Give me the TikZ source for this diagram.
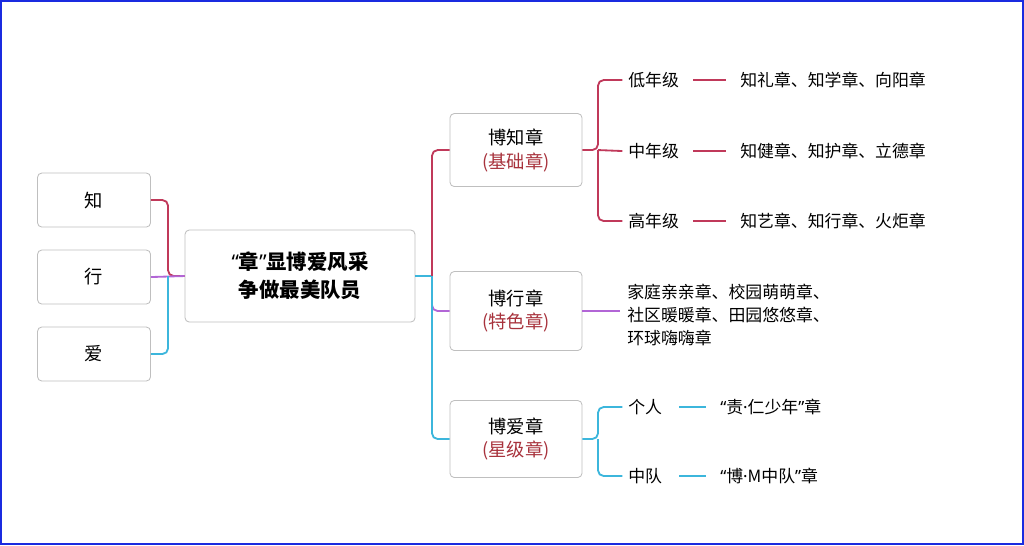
\documentclass[tikz,border=0pt]{standalone}
\usepackage{fontspec}
\setmainfont{Noto Sans CJK SC}
\newfontfamily\latin{Noto Sans}
\usetikzlibrary{positioning}
\definecolor{zhired}{HTML}{C0395A}
\definecolor{xingpur}{HTML}{B266D6}
\definecolor{aiblue}{HTML}{3CB6DC}
\definecolor{subred}{HTML}{A8323C}
\definecolor{framebl}{HTML}{1A2BE0}
\tikzset{
  box/.style={draw=black!25,rounded corners=3pt,fill=white,line width=0.6pt},
  lbl/.style={font=\fontsize{12}{14}\selectfont,inner sep=0pt},
  link/.style={line width=1.3pt}
}
\begin{document}
\begin{tikzpicture}[x=0.025cm,y=-0.025cm]
  \draw[framebl,line width=1.5pt] (1,1) rectangle (1023,544);
  \useasboundingbox (0,0) rectangle (1024,545);
  % left column
  \node[box,minimum width=113*0.025cm,minimum height=54*0.025cm,font=\fontsize{13}{14}\selectfont] (zhi) at (94,200) {知};
  \node[box,minimum width=113*0.025cm,minimum height=54*0.025cm,font=\fontsize{13}{14}\selectfont] (xing) at (94,277) {行};
  \node[box,minimum width=113*0.025cm,minimum height=54*0.025cm,font=\fontsize{13}{14}\selectfont] (ai) at (94,354) {爱};
  % centre
  \node[box,minimum width=230*0.025cm,minimum height=92*0.025cm,align=center,
        font=\bfseries\fontsize{14.5}{20}\selectfont] (main) at (300,276) {{\latin\bfseries “}章{\latin\bfseries ”}显博爱风采\\争做最美队员};
  % badges
  \node[box,minimum width=132*0.025cm,minimum height=73*0.025cm,align=center,
        font=\fontsize{13}{17}\selectfont] (bzhi) at (516,150) {博知章\\\textcolor{subred}{(基础章)}};
  \node[box,minimum width=132*0.025cm,minimum height=79*0.025cm,align=center,
        font=\fontsize{13}{17}\selectfont] (bxing) at (516,311) {博行章\\\textcolor{subred}{(特色章)}};
  \node[box,minimum width=132*0.025cm,minimum height=77*0.025cm,align=center,
        font=\fontsize{13}{17}\selectfont] (bai) at (516,439) {博爱章\\\textcolor{subred}{(星级章)}};
  % grade labels
  \node[lbl,anchor=west] (low) at (628,80) {低年级};
  \node[lbl,anchor=west] (mid) at (628,151) {中年级};
  \node[lbl,anchor=west] (high) at (628,221) {高年级};
  \node[lbl,anchor=west] (lowt) at (740,80) {知礼章、知学章、向阳章};
  \node[lbl,anchor=west] (midt) at (740,151) {知健章、知护章、立德章};
  \node[lbl,anchor=west] (hight) at (740,221) {知艺章、知行章、火炬章};
  \node[lbl,anchor=west,align=left,font=\fontsize{12}{16.5}\selectfont] (xingt) at (627,315)
    {家庭亲亲章、校园萌萌章、\\社区暖暖章、田园悠悠章、\\环球嗨嗨章};
  \node[lbl,anchor=west] (geren) at (628,407) {个人};
  \node[lbl,anchor=west] (zhongdui) at (628,476) {中队};
  \node[lbl,anchor=west] (gerent) at (720,407) {{\latin “}责{\latin ·}仁少年{\latin ”}章};
  \node[lbl,anchor=west] (zhongduit) at (720,476) {{\latin “}博{\latin ·}M中队{\latin ”}章};
  \coordinate (lj) at (168,276);
  \coordinate (rj) at (432,276);
  \coordinate (zj) at (598,150);
  \coordinate (aj) at (598,439);
  % left links
  \draw[link,zhired,rounded corners=4pt] (zhi.east) -| (lj) -- (main.west);
  \draw[link,xingpur] (xing.east) -- (main.west);
  \draw[link,aiblue,rounded corners=4pt] (ai.east) -| (lj);
  % centre to badges
  \draw[link,aiblue] (main.east) -- (rj);
  \draw[link,zhired,rounded corners=4pt] (rj) |- (bzhi.west);
  \draw[link,xingpur,rounded corners=4pt] (rj) |- (bxing.west);
  \draw[link,aiblue,rounded corners=4pt] (rj) |- (bai.west);
  % badge branches
  \draw[link,zhired,rounded corners=4pt] (bzhi.east) -- (zj) |- ([xshift=-4]low.west);
  \draw[link,zhired,rounded corners=4pt] (zj) |- ([xshift=-4]high.west);
  \draw[link,zhired] (zj) -- ([xshift=-4]mid.west);
  \draw[link,xingpur] (bxing.east) -- (620,311);
  \draw[link,aiblue,rounded corners=4pt] (bai.east) -- (aj) |- ([xshift=-4]geren.west);
  \draw[link,aiblue,rounded corners=4pt] (aj) |- ([xshift=-4]zhongdui.west);
  \draw[link,zhired] ([xshift=10]low.east) -- ([xshift=-10]lowt.west);
  \draw[link,zhired] ([xshift=10]mid.east) -- ([xshift=-10]midt.west);
  \draw[link,zhired] ([xshift=10]high.east) -- ([xshift=-10]hight.west);
  \draw[link,aiblue] ([xshift=12]geren.east) -- ([xshift=-10]gerent.west);
  \draw[link,aiblue] ([xshift=12]zhongdui.east) -- ([xshift=-10]zhongduit.west);
\end{tikzpicture}
\end{document}
